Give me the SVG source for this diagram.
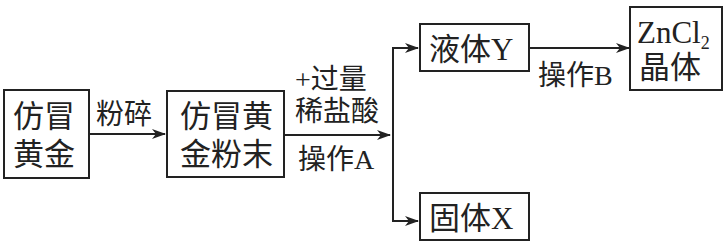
<svg xmlns="http://www.w3.org/2000/svg" width="727" height="245" viewBox="0 0 727 245">
<defs>
<style>
.box{fill:#fff;stroke:#222;stroke-width:2}
.t{font-family:"Liberation Serif","Noto Sans CJK SC",serif;fill:#222;font-size:31px}
.l{font-family:"Liberation Serif","Noto Sans CJK SC",serif;fill:#222;font-size:28px}
.c{fill:none;stroke:#222;stroke-width:2}
</style>
<marker id="ah" markerWidth="14" markerHeight="10" refX="13" refY="5" orient="auto" markerUnits="userSpaceOnUse">
<path d="M0,0 L14,5 L0,10 L4,5 Z" fill="#222"/>
</marker>
</defs>
<rect width="727" height="245" fill="#fff"/>
<g id="connectors">
<line class="c" x1="89" y1="134" x2="165" y2="134" marker-end="url(#ah)"/>
<line class="c" x1="284" y1="135" x2="390" y2="135" marker-end="url(#ah)"/>
<polyline class="c" points="418,48 393,48 393,221 418,221" marker-end="url(#ah)"/>
<line class="c" x1="393" y1="48" x2="418" y2="48" marker-end="url(#ah)"/>
<line class="c" x1="529" y1="48" x2="629" y2="48" marker-end="url(#ah)"/>
<text class="l" x="96" y="124">粉碎</text>
<text class="l" x="295" y="89">+过量</text>
<text class="l" x="295" y="121">稀盐酸</text>
<text class="l" x="298" y="169">操作A</text>
<text class="l" x="538" y="85">操作B</text>
</g>
<g id="n1">
<rect class="box" x="4" y="90" width="85" height="88"/>
<text class="t" x="13" y="127">仿冒</text>
<text class="t" x="13" y="165">黄金</text>
</g>
<g id="n2">
<rect class="box" x="167" y="91" width="117" height="86"/>
<text class="t" x="180" y="127">仿冒黄</text>
<text class="t" x="180" y="165">金粉末</text>
</g>
<g id="n3">
<rect class="box" x="420" y="24" width="109" height="47"/>
<text class="t" x="429" y="60">液体Y</text>
</g>
<g id="n4">
<rect class="box" x="420" y="193" width="109" height="47"/>
<text class="t" x="429" y="229">固体X</text>
</g>
<g id="n5">
<rect class="box" x="630" y="7" width="92" height="83"/>
<text class="t" x="637" y="43">ZnCl<tspan font-size="18" dy="6">2</tspan></text>
<text class="t" x="639" y="78">晶体</text>
</g>
</svg>
